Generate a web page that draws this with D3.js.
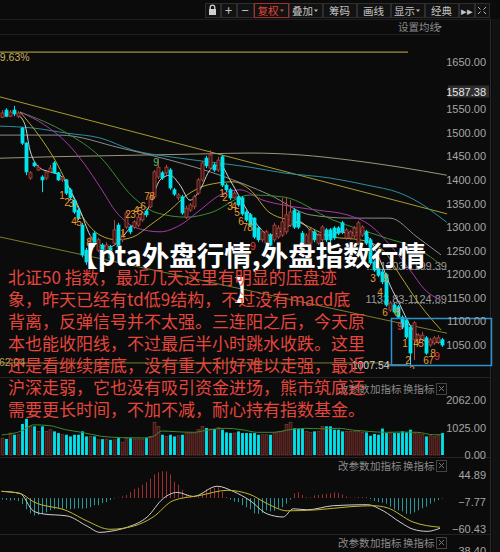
<!DOCTYPE html>
<html><head><meta charset="utf-8">
<script src="https://cdn.jsdelivr.net/npm/d3@7"></script>
<style>html,body{margin:0;padding:0;background:#0b0b0b;overflow:hidden}</style>
</head><body><svg id="c" width="500" height="552"></svg>
<script>
// ---------------- DATA ----------------
const opens  = [1533,1548,1535,1548,1535,1510,1478,1404,1436,1421,1406,1404,1417,1436,1415,1400,1400,1379,1357,1336,1304,1251,1256,1287,1251,1262,1247,1256,1266,1304,1273,1300,1300,1300,1304,1315,1334,1343,1364,1406,1415,1415,1421,1379,1362,1364,1321,1336,1343,1372,1400,1446,1425,1432,1421,1449,1389,1379,1362,1364,1362,1332,1326,1319,1298,1273,1266,1283,1273,1279,1283,1290,1304,1336,1330,1287,1262,1266,1290,1266,1273,1294,1294,1298,1298,1309,1277,1277,1281,1266,1283,1290,1273,1226,1213,1205,1198,1124,1135,1131,1109,1103,1088,1061,1056,1061,1065,1050,1054,1056,1061];
const closes = [1542,1535,1544,1540,1542,1478,1417,1415,1430,1427,1400,1417,1425,1415,1400,1404,1372,1362,1332,1319,1241,1226,1277,1264,1273,1234,1262,1234,1294,1258,1283,1330,1290,1311,1321,1330,1326,1364,1417,1427,1404,1427,1383,1370,1368,1330,1340,1347,1364,1400,1436,1430,1453,1421,1442,1389,1379,1362,1372,1347,1328,1315,1304,1279,1273,1290,1290,1262,1304,1298,1311,1326,1332,1300,1300,1258,1283,1294,1273,1283,1300,1273,1273,1277,1287,1290,1294,1290,1298,1309,1300,1266,1224,1209,1198,1184,1135,1139,1120,1109,1088,1067,1033,1097,1071,1071,1033,1061,1065,1065,1050];
const highs  = [1548,1552,1548,1557,1546,1512,1480,1419,1440,1432,1410,1419,1432,1440,1417,1408,1402,1383,1360,1340,1309,1256,1283,1292,1277,1266,1268,1262,1315,1309,1292,1334,1304,1315,1326,1334,1338,1368,1421,1446,1419,1432,1425,1383,1372,1368,1345,1351,1368,1404,1440,1451,1463,1436,1449,1453,1393,1383,1376,1368,1366,1336,1330,1321,1300,1294,1294,1287,1309,1304,1362,1364,1357,1340,1334,1292,1287,1298,1294,1287,1304,1298,1298,1302,1302,1313,1298,1294,1302,1313,1304,1294,1277,1230,1217,1209,1203,1143,1139,1135,1113,1107,1092,1101,1075,1078,1069,1065,1069,1071,1065];
const lows   = [1531,1533,1533,1535,1531,1474,1410,1400,1427,1419,1374,1400,1415,1413,1398,1396,1368,1357,1328,1315,1236,1220,1251,1258,1247,1228,1243,1226,1260,1254,1268,1296,1285,1296,1300,1311,1321,1340,1360,1402,1400,1410,1379,1366,1357,1326,1317,1332,1338,1368,1396,1425,1421,1417,1417,1385,1374,1357,1360,1343,1324,1311,1300,1275,1268,1268,1262,1258,1268,1275,1279,1285,1300,1296,1296,1254,1258,1262,1268,1262,1268,1268,1268,1273,1283,1285,1273,1273,1277,1262,1279,1262,1220,1205,1194,1179,1131,1120,1116,1105,1084,1063,1007.54,1018,1052,1056,1029,1046,1050,1052,1046];
const volumes = [634,600,822,760,760,1164,1355,1075,1075,886,1075,886,949,886,822,760,760,696,760,760,886,696,696,696,569,595,595,569,569,634,481,634,634,595,595,595,634,696,1227,1075,760,696,760,696,721,760,822,822,822,949,1075,1012,974,974,1037,949,848,822,822,886,822,822,822,822,760,760,760,760,822,886,886,1150,1227,1000,974,974,886,849,886,886,1075,1075,1075,949,949,886,886,886,886,886,848,848,721,790,760,990,822,822,822,822,886,848,949,822,822,760,696,721,696,720,822];
const macdHist = [-3,-4,-5,-4,-6,-12,-22,-30,-34,-33,-31,-28,-24,-22,-21,-21,-21,-22,-21,-20,-21,-20,-18,-14,-14,-10,-8,-4,-1,1,3,6,12,18,20,26,31,38,46,50,52,52,46,32,26,16,7,2,1,3,9,17,19,20,21,12,2,-3,-7,-8,-14,-18,-22,-30,-31,-29,-24,-26,-25,-21,-18,-11,-3,9,11,6,2,1,5,6,7,8,9,11,10,7,3,1,1,2,2,2,-2,-6,-8,-9,-11,-17,-22,-24,-26,-31,-31,-28,-24,-20,-17,-11,-7,-4,-1];
const difLine = [[0,13],[4.6,9],[7.9,-25],[10.4,-31],[16.4,-35],[21.4,-55],[24.6,-67],[27.1,-65],[31.4,-57],[36.4,-37],[40.4,-1],[43.9,11],[47.9,3],[53.9,23],[57.9,13],[62.1,-5],[66.4,-31],[70.4,-37],[72.9,-21],[76.4,-23],[82.9,-15],[91.4,-13],[95.4,-25],[99.6,-47],[102.9,-61],[106.4,-65],[109.6,-59]];
const deaLine = [[0,13],[4.6,9],[7.9,-7],[16.4,-25],[21.4,-45],[27.1,-61],[32.9,-55],[37.9,-37],[42.9,-5],[49.6,5],[56.4,15],[62.1,7],[66.4,-11],[71.4,-25],[78.9,-23],[87.1,-17],[92.9,-15],[96.4,-19],[102.9,-47],[109.6,-57]];
const volMA = [[0,750],[5,900],[8,1130],[12,1100],[16,950],[20,850],[25,700],[30,650],[35,640],[38,700],[40,900],[44,870],[48,850],[52,950],[56,1000],[60,950],[64,850],[68,850],[72,950],[76,1000],[80,980],[84,1000],[88,930],[92,880],[96,850],[100,860],[104,850],[108,760],[110,760]];
const ma5  = [[4.1,1538],[5.85,1517],[7.1,1463],[9.6,1425],[12.1,1417],[14.6,1410],[17.1,1379],[19.6,1336],[22.1,1283],[24.6,1262],[27.1,1258],[29.6,1273],[32.1,1298],[34.6,1315],[37.1,1347],[39.6,1400],[42.1,1410],[44.6,1389],[47.1,1357],[49.6,1379],[52.1,1421],[54.6,1432],[57.1,1400],[59.6,1362],[62.1,1326],[64.6,1298],[67.1,1283],[69.6,1290],[72.1,1304],[74.6,1311],[77.1,1294],[79.6,1283],[82.1,1283],[84.6,1290],[87.1,1287],[89.6,1290],[92.1,1273],[94.6,1230],[97.1,1177],[99.6,1135],[102.1,1092],[104.6,1065],[107.1,1056],[109.85,1056]];
const ma10 = [[4.6,1544],[9.6,1491],[13.35,1442],[16.35,1393],[20.35,1321],[24.6,1283],[28.85,1273],[32.85,1279],[37.1,1304],[42.1,1336],[46.35,1368],[51.35,1389],[57.85,1396],[62.1,1379],[67.1,1330],[74.6,1309],[82.85,1279],[89.6,1273],[95.35,1251],[99.6,1198],[104.6,1135],[109.85,1082]];
const ma20 = [[4.6,1544],[10.85,1516],[16.35,1478],[20.85,1432],[24.6,1385],[28.85,1330],[33.85,1298],[39.6,1290],[44.6,1304],[49.6,1336],[54.6,1368],[59.6,1379],[65.35,1357],[70.35,1347],[78.85,1336],[86.35,1326],[92.1,1304],[97.1,1262],[102.1,1209],[105.85,1167],[109.85,1145]];
const ma30 = [[4.6,1544],[16.35,1499],[24.6,1449],[32.85,1364],[38.85,1330],[46.35,1321],[52.1,1330],[62.1,1368],[70.35,1364],[82.85,1315],[95.35,1279],[104.6,1251],[109.85,1220]];
const ma60 = [[-0.4,1495],[14.6,1495],[29.6,1468],[42.1,1442],[54.6,1410],[67.1,1368],[77.1,1326],[87.1,1319],[97.1,1319],[103.85,1279],[109.85,1241]];
const ma120 = [[-0.4,1514],[7.85,1510],[16.35,1499],[24.6,1489],[32.85,1463],[42.1,1449],[52.1,1438],[62.1,1427],[70.35,1415],[82.1,1404],[91.35,1389],[99.6,1372],[104.6,1351],[109.6,1321],[111.3,1310]];
const ma250 = [[-0.4,1446],[12.1,1449],[24.6,1451],[37.1,1453],[49.6,1455],[62.1,1457],[74.6,1453],[87.1,1442],[99.6,1427],[111.3,1410]];
const trendA = [[-0.4,1576],[111.35,1328]];
const trendB = [[-0.4,1279],[111.35,1075]];
const hTop = [[-0.4,1671],[101.6,1671]];
const hBot = [[-0.4,1012],[97,1012]];
const tdLabels = [
 [15.1,1368,'1','o'],[16.35,1353,'2','o'],[17.35,1351,'3','o'],[18.1,1311,'4','o'],[19.35,1309,'5','o'],[21.85,1268,'8','o'],
 [30.35,1287,'1','o'],[31.6,1326,'2','o'],[32.85,1326,'3','o'],[33.6,1336,'4','o'],[34.6,1332,'5','o'],[35.35,1343,'6','o'],[36.35,1364,'7','o'],[37.6,1364,'8','o'],[38.6,1436,'9','g'],
 [55.1,1372,'1','o'],[55.85,1362,'2','o'],[57.1,1343,'3','o'],[58.1,1343,'4','o'],[58.85,1330,'5','o'],[59.85,1311,'6','o'],[60.85,1300,'7','o'],[62.1,1300,'8','o'],[62.85,1258,'9','r'],
 [92.85,1192,'3','o'],[96.1,1192,'5','o'],[94.6,1162,'4','o'],[95.85,1118,'6','o'],[98.85,1118,'8','o'],[99.6,1090,'9','r'],
 [100.85,1054,'1','o'],[101.6,1018,'2','o'],[102.6,995,'3','o'],[103.6,1054,'4','o'],[104.85,1054,'5','o'],[106.1,1018,'6','o'],[107.35,1018,'7','o'],[107.85,1033,'8','o'],[108.85,1025,'9','r']];
const priceTicks = [1650,1550,1500,1450,1400,1350,1300,1250,1200,1150,1100,1050];
const markPrice = 1587.38;
const lowPrice = 1007.54;
const volTicks = [2062,1025,0];
const macdTicks = [44.89,-7.77,-60.43];
const title1 = '【pta外盘行情,外盘指数行情';
const title2 = '】';
const para = ['北证50 指数，最近几天这里有明显的压盘迹','象，昨天已经有td低9结构，不过没有macd底','背离，反弹信号并不太强。三连阳之后，今天原','本也能收阳线，不过最后半小时跳水收跌。这里','还是看继续磨底，没有重大利好难以走强，最近','沪深走弱，它也没有吸引资金进场，熊市筑底还','需要更长时间，不加不减，耐心持有指数基金。'];
const toolbar = [['lock',15],['+',15],['−',16],['复权▾',34],['叠加▾',33],['筹码',33],['画线',33],['显示▾',33],['经典',33],['▸▸',15],['expand',14]];

// ---------------- DRAW ----------------
const svg = d3.select('#c');
const CJK = '"Noto Sans CJK SC","Noto Sans",sans-serif';
const NUM = '"Liberation Sans",Arial,sans-serif';
svg.append('rect').attr('width',500).attr('height',552).attr('fill','#0b0b0b');

const N = opens.length;
const x = d3.scaleLinear().domain([0, N-1]).range([1.6, 441.6]);
const y = d3.scaleLinear().domain([1050,1650]).range([345,62]);
const yv = d3.scaleLinear().domain([0,2062]).range([455,400]);
const ym = d3.scaleLinear().domain([-60.43,44.89]).range([529,475]);

// toolbar
let tx = 205;
const tbg = svg.append('g');
toolbar.forEach(([t,w],k)=>{
  const red = t.startsWith('复权');
  tbg.append('rect').attr('x',tx+0.5).attr('y',3.5).attr('width',w).attr('height',14)
    .attr('fill','#121212').attr('stroke', red?'#a3302a':'#2e2e2e');
  const cx = tx + w/2;
  if (t==='lock'){
    tbg.append('rect').attr('x',cx-3.5).attr('y',9).attr('width',7).attr('height',6).attr('fill','#cfcfcf');
    tbg.append('path').attr('d',`M${cx-2.3},9 v-1.5 a2.3,2.3 0 0 1 4.6,0 v1.5`).attr('fill','none').attr('stroke','#cfcfcf').attr('stroke-width',1.3);
  } else if (t==='expand'){
    tbg.append('path').attr('d',`M${cx-4},7 l2.5,2.5 M${cx+4},7 l-2.5,2.5 M${cx-4},14 l2.5,-2.5 M${cx+4},14 l-2.5,-2.5`).attr('stroke','#bbb').attr('stroke-width',1);
  } else {
    const dd = t.endsWith('▾');
    const label = dd ? t.slice(0,-1) : t;
    tbg.append('text').attr('x', dd? cx-3 : cx).attr('y',14.5).attr('text-anchor','middle')
      .attr('font-family',CJK).attr('font-size', (t==='+'||t==='−')?13:10.5).attr('fill', red?'#e2463c':'#c4c4c4').text(label);
    if (dd) tbg.append('path').attr('d',`M${tx+w-8},9.5 h4 l-2,2.5z`).attr('fill', red?'#e2463c':'#bbb');
  }
  tx += w+1;
});

// separators
const sep = (y0,x0,x1,c)=>svg.append('line').attr('x1',x0).attr('x2',x1).attr('y1',y0).attr('y2',y0).attr('stroke',c||'#1f1f1f');
sep(19.5,0,490); sep(34.5,0,440); sep(377.5,0,490,'#222'); sep(457.5,0,490,'#222'); sep(534.5,0,490,'#222');
svg.append('line').attr('x1',490.5).attr('x2',490.5).attr('y1',19).attr('y2',552).attr('stroke','#2a2a2a');
svg.append('rect').attr('x',492).attr('y',19).attr('width',8).attr('height',533).attr('fill','#111');
svg.append('text').attr('x',398).attr('y',31).attr('font-family',CJK).attr('font-size',10.5).attr('fill','#8c8c8c').text('设置均线');
svg.append('path').attr('d','M438,26 h4 l-2,2.5z').attr('fill','#8c8c8c');

// price panel
const clip = svg.append('clipPath').attr('id','pc').append('rect').attr('x',0).attr('y',36).attr('width',449).attr('height',333);
const pg = svg.append('g').attr('clip-path','url(#pc)');
const line = d3.line().x(d=>x(d[0])).y(d=>y(d[1])).curve(d3.curveMonotoneX);
const drawL = (data,color,w)=>pg.append('path').attr('d',line(data)).attr('fill','none').attr('stroke',color).attr('stroke-width',w||1);

// horizontal marks
drawL(hTop,'#a38f3a',1.2);
drawL(hBot,'#7c7a2c',1);
svg.append('text').attr('x',-6).attr('y',61).attr('font-family',NUM).attr('font-size',10.5).attr('fill','#c8b060').text('19.63%');
svg.append('text').attr('x',-1).attr('y',366).attr('font-family',NUM).attr('font-size',10.5).attr('fill','#b8a458').text('62.04');

// price annotations
pg.append('line').attr('x1',367).attr('x2',447).attr('y1',269.5).attr('y2',269.5).attr('stroke','#555').attr('stroke-dasharray','2,1');
pg.append('text').attr('x',447).attr('y',270).attr('text-anchor','end').attr('font-family',NUM).attr('font-size',11).attr('fill','#9a9a9a').text('1203-1199.39');
pg.append('line').attr('x1',375).attr('x2',447).attr('y1',303.5).attr('y2',303.5).attr('stroke','#555').attr('stroke-dasharray','2,1');
pg.append('text').attr('x',447).attr('y',303).attr('text-anchor','end').attr('font-family',NUM).attr('font-size',11).attr('fill','#9a9a9a').text('1133.83-1124.89');

drawL(trendA,'#a59c2e');
drawL(trendB,'#7e7c2a');
drawL(ma250,'#9b957c');
drawL(ma120,'#2b8f9c');
drawL(ma60,'#8a8a8a');
drawL(ma30,'#3f8a34');
drawL(ma20,'#a43aa8');
drawL(ma10,'#b6a42c');
drawL(ma5,'#cfcfcf');

// candles
const cg = pg.append('g');
d3.range(N).forEach(i=>{
  const up = closes[i] >= opens[i];
  const col = up ? '#b0473f' : '#00e4ee';
  const cx = Math.round(x(i))+0.5;
  cg.append('line').attr('x1',cx).attr('x2',cx).attr('y1',y(highs[i])).attr('y2',y(lows[i])).attr('stroke',col);
  const top = y(Math.max(opens[i],closes[i])), bot = y(Math.min(opens[i],closes[i]));
  cg.append('rect').attr('x',cx-1.5).attr('y',top).attr('width',3).attr('height',Math.max(1,bot-top))
    .attr('fill', up ? '#3a1412' : '#00e4ee').attr('stroke',col).attr('stroke-width',0.8);
});
// TD labels
tdLabels.forEach(([i,p,t,c])=>{
  pg.append('text').attr('x',x(i)).attr('y',y(p)+3.5).attr('text-anchor','middle').attr('font-family',NUM).attr('font-size',10)
    .attr('fill', c==='g'?'#55c060':(c==='r'?'#e0403a':'#e89a30')).text(t);
});
// low mark
const li = lows.indexOf(lowPrice);
pg.append('line').attr('x1',x(li)-22).attr('x2',x(li)-2).attr('y1',y(lowPrice)).attr('y2',y(lowPrice)).attr('stroke','#cfcfcf');
pg.append('text').attr('x',x(li)-20).attr('y',y(lowPrice)+4).attr('text-anchor','end').attr('font-family',NUM).attr('font-size',10.5).attr('fill','#d0d0d0').text(lowPrice.toFixed(2));
// blue box
svg.append('rect').attr('x',391.5).attr('y',318.5).attr('width',100).attr('height',47).attr('fill','none').attr('stroke','#2c92d0').attr('stroke-width',1.5);

// price axis
const pa = svg.append('g').attr('transform','translate(486,0)').call(d3.axisLeft(y).tickValues(priceTicks).tickSize(0).tickPadding(0).tickFormat(d3.format('.2f')));
pa.select('.domain').remove();
pa.selectAll('text').attr('font-family',NUM).attr('font-size',11).attr('fill','#a6a6a6');
svg.append('rect').attr('x',448).attr('y',y(markPrice)-6).attr('width',41).attr('height',12).attr('fill','#2f2f2f');
svg.append('text').attr('x',486).attr('y',y(markPrice)+4).attr('text-anchor','end').attr('font-family',NUM).attr('font-size',11).attr('fill','#e6e6e6').text(markPrice.toFixed(2));

// volume panel
const vg = svg.append('g');
d3.range(N).forEach(i=>{
  const up = closes[i] >= opens[i];
  const cx = Math.round(x(i))+0.5;
  vg.append('rect').attr('x',cx-1.4).attr('y',yv(volumes[i])).attr('width',2.8).attr('height',yv(0)-yv(volumes[i]))
    .attr('fill', up ? '#3a1614' : '#00e4ee').attr('stroke', up ? '#7e3a34':'none').attr('stroke-width',0.7);
});
vg.append('path').attr('d',d3.line().x(d=>x(d[0])).y(d=>yv(d[1])).curve(d3.curveMonotoneX)(volMA)).attr('fill','none').attr('stroke','#3f8a2e');
const va = svg.append('g').attr('transform','translate(486,0)').call(d3.axisLeft(yv).tickValues(volTicks).tickSize(0).tickPadding(0).tickFormat(d3.format('.2f')));
va.select('.domain').remove();
va.selectAll('text').attr('font-family',NUM).attr('font-size',11).attr('fill','#a6a6a6');

// MACD panel
const mg = svg.append('g');
d3.range(N).forEach(i=>{
  const v = macdHist[i];
  const cx = Math.round(x(i))+0.5;
  mg.append('line').attr('x1',cx).attr('x2',cx).attr('y1',ym(0)).attr('y2',ym(v)).attr('stroke', v>=0?'#9a3030':'#2a9696');
});
const ml = d3.line().x(d=>x(d[0])).y(d=>ym(d[1])).curve(d3.curveMonotoneX);
mg.append('path').attr('d',ml(difLine)).attr('fill','none').attr('stroke','#cfcfcf');
mg.append('path').attr('d',ml(deaLine)).attr('fill','none').attr('stroke','#c0b630');
const ma = svg.append('g').attr('transform','translate(486,0)').call(d3.axisLeft(ym).tickValues(macdTicks).tickSize(0).tickPadding(0).tickFormat(d3.format('.2f')));
ma.select('.domain').remove();
ma.selectAll('text').attr('font-family',NUM).attr('font-size',11).attr('fill','#a6a6a6');
svg.append('text').attr('x',486).attr('y',555).attr('text-anchor','end').attr('font-family',NUM).attr('font-size',11).attr('fill','#a6a6a6').text('38.40');

// indicator headers
[389,466,543].forEach(hy=>{
  const g = svg.append('g');
  [['改参数',338],['加指标',370],['换指标',403]].forEach(([t,xx])=>g.append('text').attr('x',xx).attr('y',hy+4).attr('font-family',CJK).attr('font-size',10.5).attr('fill','#8a8a8a').text(t));
  g.append('rect').attr('x',436.5).attr('y',hy-5.5).attr('width',10).attr('height',11).attr('fill','none').attr('stroke','#444');
  g.append('path').attr('d',`M439,${hy-3} l5,5 M444,${hy-3} l-5,5`).attr('stroke','#777');
});

// overlay text
svg.append('text').attr('x',248).attr('y',266).attr('text-anchor','middle').attr('font-family',CJK).attr('font-weight',700).attr('font-size',27.5).attr('fill','#ffffff').attr('stroke','#111').attr('stroke-width',0.6).attr('paint-order','stroke').text(title1);
svg.append('text').attr('x',248).attr('y',300).attr('text-anchor','middle').attr('font-family',CJK).attr('font-weight',700).attr('font-size',27.5).attr('fill','#ffffff').text(title2);
para.forEach((t,k)=>{
  svg.append('text').attr('x',8).attr('y',284 + k*22).attr('font-family',CJK).attr('font-size',17).attr('fill','#e4463d').text(t);
});
</script>
</body></html>
